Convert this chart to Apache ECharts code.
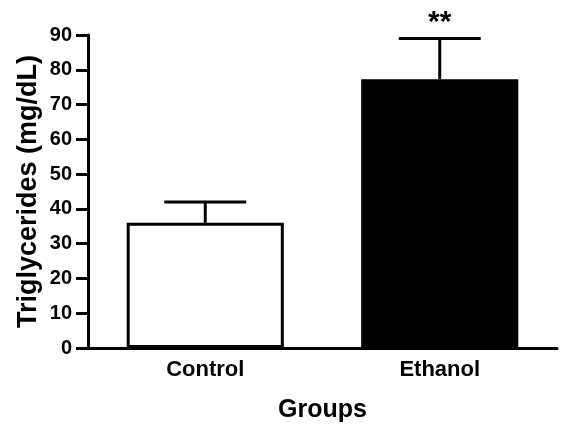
<!DOCTYPE html>
<html><head><meta charset="utf-8">
<script src="https://cdn.jsdelivr.net/npm/echarts@6/dist/echarts.min.js"></script>
<style>html,body{margin:0;padding:0;background:#fff}#c{width:561px;height:426px}</style>
</head><body><div id="c"></div>
<script>
const categories = ['Control', 'Ethanol'];
const means = [36, 77.3];
const errors = [6, 11.7];
const significance = ['', '**'];
const yTicks = [0, 10, 20, 30, 40, 50, 60, 70, 80, 90];

const chart = echarts.init(document.getElementById('c'));
const F = '"Liberation Sans", Arial, sans-serif';
chart.setOption({
  animation: false,
  grid: { left: 88, right: 4, top: 35, bottom: 78, containLabel: false, outerBoundsMode: 'none' },
  xAxis: {
    type: 'category', data: categories,
    name: 'Groups', nameLocation: 'middle', nameGap: 50, nameMoveOverlap: false,
    nameTextStyle: { fontFamily: F, fontWeight: 'bold', fontSize: 25, color: '#000' },
    axisLine: { lineStyle: { color: '#000', width: 3 } },
    axisTick: { alignWithLabel: true, length: 9, lineStyle: { color: '#000', width: 3 } },
    axisLabel: { fontFamily: F, fontWeight: 'bold', fontSize: 22, color: '#000', margin: 11 }
  },
  yAxis: {
    type: 'value', min: 0, max: 90, interval: 10,
    name: 'Triglycerides (mg/dL)', nameLocation: 'middle', nameGap: 46, nameMoveOverlap: false,
    nameTextStyle: { fontFamily: F, fontWeight: 'bold', fontSize: 27, color: '#000' },
    axisLine: { show: true, lineStyle: { color: '#000', width: 3 } },
    axisTick: { show: true, length: 12, lineStyle: { color: '#000', width: 3 } },
    axisLabel: { fontFamily: F, fontWeight: 'bold', fontSize: 20, color: '#000', margin: 16,
      formatter: v => yTicks.includes(v) ? String(v) : '' },
    splitLine: { show: false }
  },
  series: [
    {
      type: 'bar', data: means.map((v, i) => ({
        value: v,
        itemStyle: { color: i === 0 ? '#fff' : '#000' }
      })),
      barWidth: '67%',
      itemStyle: { borderColor: '#000', borderWidth: 3 },
      z: 2
    },
    {
      type: 'custom', z: 3,
      data: means.map((m, i) => [i, m, m + errors[i], significance[i]]),
      renderItem: (params, api) => {
        const base = api.coord([api.value(0), api.value(1)]);
        const top = api.coord([api.value(0), api.value(2)]);
        const half = 41;
        return {
          type: 'group', children: [
            { type: 'line', shape: { x1: base[0], y1: base[1], x2: top[0], y2: top[1] },
              style: { stroke: '#000', lineWidth: 3 } },
            { type: 'line', shape: { x1: top[0] - half, y1: top[1], x2: top[0] + half, y2: top[1] },
              style: { stroke: '#000', lineWidth: 3 } },
            { type: 'text', x: top[0], y: top[1] - 31,
              style: { text: api.value(3), fill: '#000', font: 'bold 30px ' + F, align: 'center', verticalAlign: 'top' } }
          ]
        };
      }
    }
  ]
});
</script></body></html>
